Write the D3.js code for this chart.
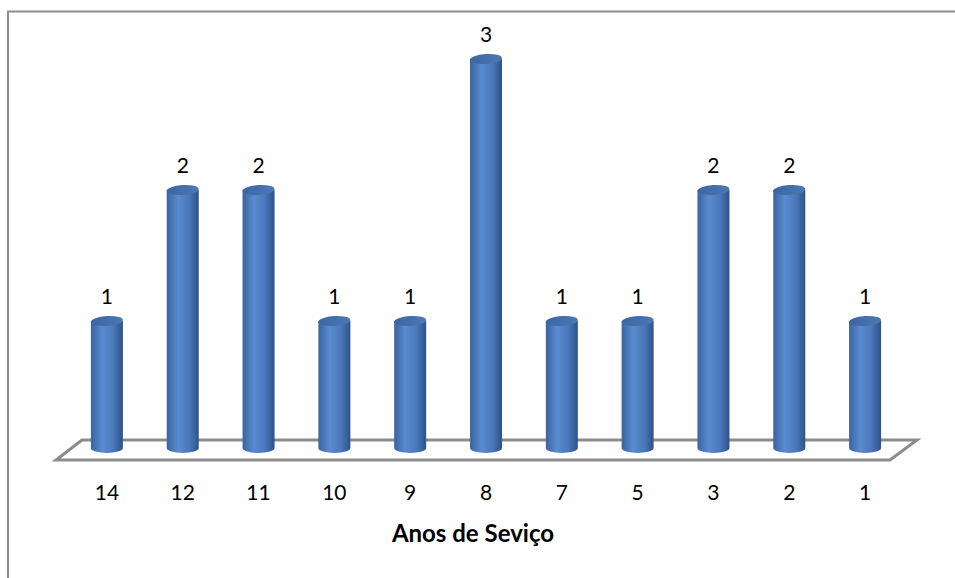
<!DOCTYPE html>
<meta charset="utf-8">
<style>
    body { margin: 0; background: #fff; }
    text { font-family: Lato, "Noto Sans", sans-serif; fill: #000; }
</style>
<svg width="955" height="578"></svg>
<script src="https://cdn.jsdelivr.net/npm/d3@7"></script>
<script>
    // anos de serviço -> número de pessoas
    var categories = ["14", "12", "11", "10", "9", "8", "7", "5", "3", "2", "1"];
    var values = [1, 2, 2, 1, 1, 3, 1, 1, 2, 2, 1];
    var yTicks = [0, 1, 2, 3];
    var axisTitle = "Anos de Seviço";

    var svg = d3.select("svg"),
        width = +svg.attr("width"),
        height = +svg.attr("height");

    var x = d3.scaleBand().domain(categories).range([69, 903]).padding(0),
        y = d3.scaleLinear().domain([0, d3.max(yTicks)]).range([452, 59]),
        rx = 16, ry = 5;

    var defs = svg.append("defs");
    var grad = defs.append("linearGradient").attr("id", "cyl")
        .attr("x1", "0").attr("x2", "1").attr("y1", "0").attr("y2", "0");
    grad.append("stop").attr("offset", "0%").attr("stop-color", "#3a64a0");
    grad.append("stop").attr("offset", "35%").attr("stop-color", "#5a8ad0");
    grad.append("stop").attr("offset", "70%").attr("stop-color", "#4a78bb");
    grad.append("stop").attr("offset", "100%").attr("stop-color", "#2d5387");
    var topGrad = defs.append("linearGradient").attr("id", "cylTop")
        .attr("x1", "0").attr("x2", "1").attr("y1", "0").attr("y2", "0");
    topGrad.append("stop").attr("offset", "0%").attr("stop-color", "#3c66a2");
    topGrad.append("stop").attr("offset", "100%").attr("stop-color", "#4c78b6");

    // frame
    svg.append("rect")
        .attr("x", 8).attr("y", 11.5)
        .attr("width", width + 10).attr("height", height + 10)
        .attr("fill", "none").attr("stroke", "#8c8c8c").attr("stroke-width", 2);

    // floor
    var r = x.range(), y0 = y(0);
    svg.append("polygon")
        .attr("points", [
            [r[0] - 13, y0 + 8], [r[0] + 13, y0 - 12],
            [r[1] + 14, y0 - 12], [r[1] - 13, y0 + 8]
        ].join(" "))
        .attr("fill", "#fff").attr("stroke", "#8c8c8c").attr("stroke-width", 3)
        .attr("stroke-linejoin", "miter");

    // cylinders
    var bars = svg.append("g").selectAll("g").data(values).enter().append("g")
        .attr("transform", function (d, i) {
            return "translate(" + (x(categories[i]) + x.bandwidth() / 2) + ",0)";
        });
    bars.append("path")
        .attr("d", function (d) {
            var top = y(d), bot = y(0) - 4;
            return "M" + (-rx) + "," + top + "L" + (-rx) + "," + bot +
                "A" + rx + "," + ry + " 0 0 0 " + rx + "," + bot +
                "L" + rx + "," + top + "Z";
        })
        .attr("fill", "url(#cyl)");
    bars.append("ellipse")
        .attr("cx", 0).attr("cy", function (d) { return y(d); })
        .attr("rx", rx).attr("ry", ry)
        .attr("transform", function (d) { return "rotate(-4,0," + y(d) + ")"; })
        .attr("fill", "url(#cylTop)");
    bars.append("text")
        .attr("text-anchor", "middle")
        .attr("y", function (d) { return y(d) - 17; })
        .style("font-size", "21px")
        .text(function (d) { return d; });

    // category labels
    svg.append("g").selectAll("text").data(categories).enter().append("text")
        .attr("x", function (d) { return x(d) + x.bandwidth() / 2; })
        .attr("y", 500)
        .attr("text-anchor", "middle")
        .style("font-size", "21px")
        .text(function (d) { return d; });

    svg.append("text")
        .attr("x", 473).attr("y", 542)
        .attr("text-anchor", "middle")
        .style("font-size", "24px").style("font-weight", "bold")
        .text(axisTitle);
</script>
